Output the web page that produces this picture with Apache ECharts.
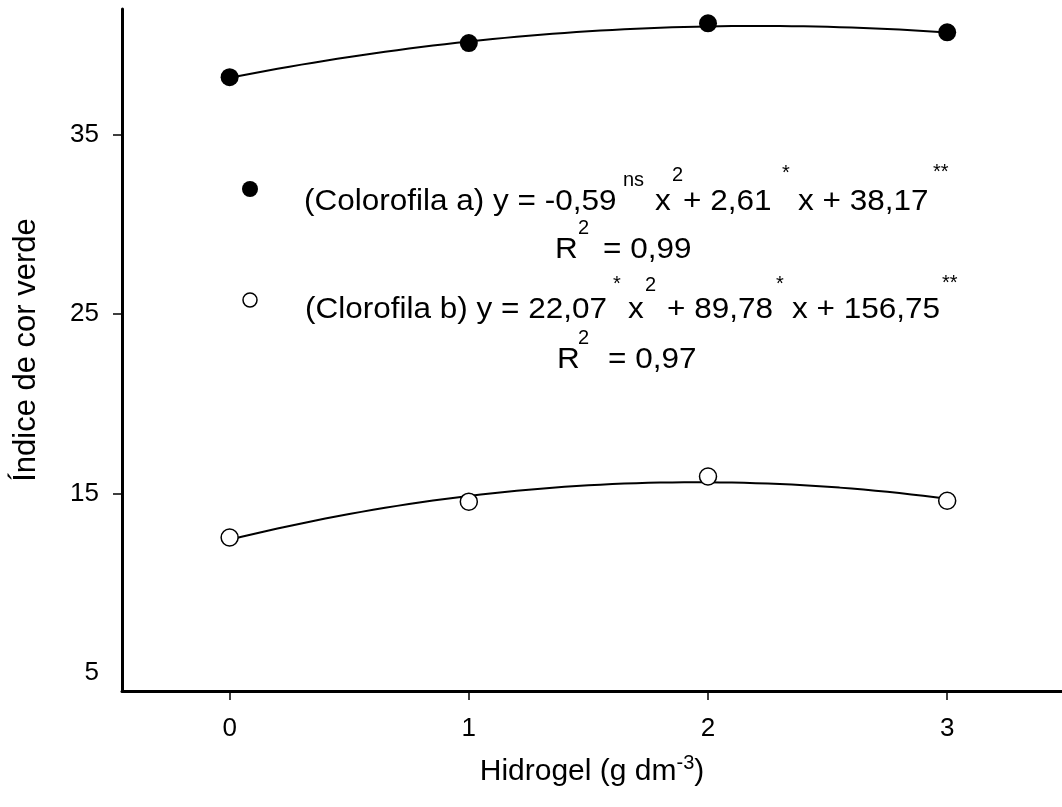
<!DOCTYPE html>
<html>
<head>
<meta charset="utf-8">
<title>Índice de cor verde</title>
<script src="https://cdn.jsdelivr.net/npm/echarts@6/dist/echarts.min.js"></script>
<style>
  html, body { margin: 0; padding: 0; background: #fff; }
  #chart { width: 1062px; height: 807px; }
</style>
</head>
<body>
<div id="chart"></div>
<script>
// Hydrogel doses (g dm-3)
const doses = [0, 1, 2, 3];
// Observed green colour index
const clorofilaA = [38.2, 40.1, 41.2, 40.7];
const clorofilaB = [12.55, 14.55, 15.95, 14.6];
// Quadratic regression coefficients [c0, c1, c2] for y = c0 + c1 x + c2 x^2
const fitA = [38.17, 2.61, -0.59];
const fitB = [12.43, 3.28, -0.84];
// Axis ticks
const xTicks = [0, 1, 2, 3];
const yLabels = [5, 15, 25, 35];
const yTickMarks = [15, 25, 35];

const FONT = '"Liberation Sans", Arial, sans-serif';

function pairs(xs, ys) { return xs.map((x, i) => [x, ys[i]]); }
function curve(c, x0, x1, n) {
  const pts = [];
  for (let i = 0; i <= n; i++) {
    const x = x0 + (x1 - x0) * i / n;
    pts.push([x, c[0] + c[1] * x + c[2] * x * x]);
  }
  return pts;
}

// Equation annotation pieces: [text, left x, centre y, size]
const MAIN = 30, SUP = 20;
const eqPieces = [
  ['(Colorofila a) y = -0,59', 304, 202, MAIN],
  ['ns', 623, 180, SUP],
  ['x', 655, 202, MAIN],
  ['2', 672, 175, SUP],
  ['+ 2,61', 683, 202, MAIN],
  ['*', 782, 173, SUP],
  ['x + 38,17', 798, 202, MAIN],
  ['**', 933, 172, SUP],
  ['R', 555, 250, MAIN],
  ['2', 578, 228, SUP],
  ['= 0,99', 603, 250, MAIN],
  ['(Clorofila b) y = 22,07', 305, 310, MAIN],
  ['*', 613, 284, SUP],
  ['x', 628, 310, MAIN],
  ['2', 645, 285, SUP],
  ['+ 89,78', 667, 310, MAIN],
  ['*', 776, 284, SUP],
  ['x + 156,75', 792, 310, MAIN],
  ['**', 942, 283, SUP],
  ['R', 557, 360, MAIN],
  ['2', 578, 338, SUP],
  ['= 0,97', 608, 360, MAIN]
];

const graphics = eqPieces.map(p => ({
  type: 'text',
  x: p[1], y: p[2],
  scaleX: p[3] === MAIN ? 1.05 : 1,
  style: {
    text: p[0],
    fontFamily: FONT,
    fontSize: p[3],
    fill: '#000',
    textAlign: 'left', align: 'left',
    textVerticalAlign: 'middle', verticalAlign: 'middle'
  }
}));
// Key symbols next to the equations
graphics.push({ type: 'circle', shape: { cx: 250, cy: 189, r: 8 }, style: { fill: '#000' } });
graphics.push({ type: 'circle', shape: { cx: 250, cy: 300, r: 7 }, style: { fill: '#fff', stroke: '#000', lineWidth: 1.5 } });

const chart = echarts.init(document.getElementById('chart'), null, { renderer: 'canvas' });
chart.setOption({
  backgroundColor: '#fff',
  animation: false,
  grid: { left: 122, right: 0, top: 9, bottom: 116, containLabel: false },
  xAxis: {
    type: 'value',
    min: -0.45, max: 3.48,
    name: '{n|Hidrogel (g dm}{s|-3}{n|)}',
    nameLocation: 'middle',
    nameGap: 62,
    nameTextStyle: {
      rich: {
        n: { fontFamily: FONT, fontSize: 30, color: '#000' },
        s: { fontFamily: FONT, fontSize: 20, color: '#000', padding: [0, 0, 18, 0] }
      }
    },
    axisLine: { show: true, onZero: false, lineStyle: { color: '#000', width: 3 } },
    axisTick: { show: true, inside: false, length: 9, customValues: xTicks, lineStyle: { color: '#000', width: 1.5 } },
    axisLabel: { customValues: xTicks, fontFamily: FONT, fontSize: 26, color: '#000', margin: 25 },
    splitLine: { show: false }
  },
  yAxis: {
    type: 'value',
    min: 4, max: 42,
    name: 'Índice de cor verde',
    nameLocation: 'middle',
    nameGap: 80,
    nameTextStyle: { fontFamily: FONT, fontSize: 31, color: '#000' },
    axisLine: { show: true, onZero: false, lineStyle: { color: '#000', width: 3 } },
    axisTick: { show: true, inside: false, length: 9, customValues: yTickMarks, lineStyle: { color: '#000', width: 1.5 } },
    axisLabel: { customValues: yLabels, fontFamily: FONT, fontSize: 26, color: '#000', margin: 23 },
    splitLine: { show: false }
  },
  graphic: { elements: graphics },
  series: [
    {
      name: 'Ajuste a', type: 'line', data: curve(fitA, 0, 3, 60),
      showSymbol: false, smooth: false,
      lineStyle: { color: '#000', width: 2 }, z: 2
    },
    {
      name: 'Ajuste b', type: 'line', data: curve(fitB, 0, 3, 60),
      showSymbol: false, smooth: false,
      lineStyle: { color: '#000', width: 2 }, z: 2
    },
    {
      name: 'Colorofila a', type: 'scatter', data: pairs(doses, clorofilaA),
      symbol: 'circle', symbolSize: 18,
      itemStyle: { color: '#000', opacity: 1 }, z: 3
    },
    {
      name: 'Clorofila b', type: 'scatter', data: pairs(doses, clorofilaB),
      symbol: 'circle', symbolSize: 17,
      itemStyle: { color: '#fff', borderColor: '#000', borderWidth: 1.5, opacity: 1 }, z: 3
    }
  ]
});
</script>
</body>
</html>
